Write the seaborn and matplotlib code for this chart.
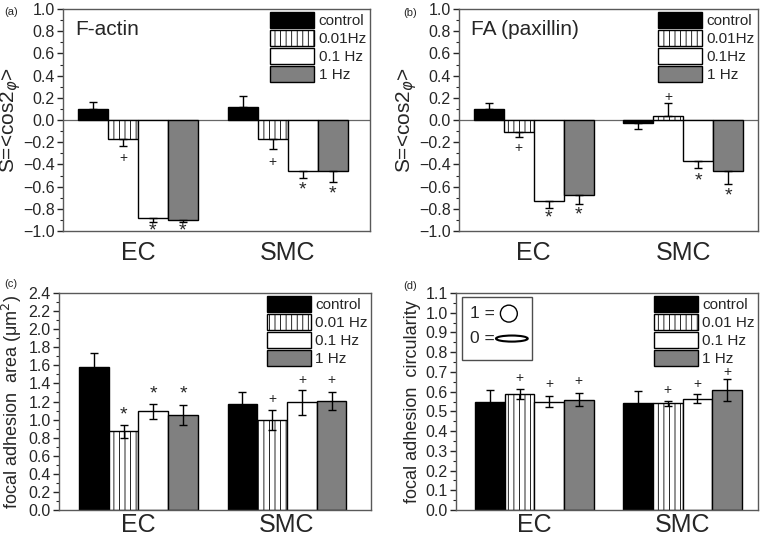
import pandas as pd
import numpy as np
import matplotlib
matplotlib.use("Agg")
import matplotlib.pyplot as plt
import seaborn as sns
from matplotlib.patches import Patch, Rectangle, Ellipse
from matplotlib.ticker import MultipleLocator

sns.set_style("white")
plt.rcParams['font.family'] = ['Liberation Sans', 'DejaVu Sans']
plt.rcParams['hatch.color'] = '0.55'
plt.rcParams['hatch.linewidth'] = 0.6

cells = ['EC', 'SMC']
freqs = ['control', '0.01Hz', '0.1 Hz', '1 Hz']
colors = ['black', 'white', 'white', '#808080']

# (a) F-actin order parameter
actin_ec = [0.10, -0.17, -0.88, -0.90]
actin_smc = [0.12, -0.17, -0.46, -0.46]
actin_ec_err = [0.065, 0.06, 0.04, 0.02]
actin_smc_err = [0.10, 0.09, 0.06, 0.10]
actin_ec_mark = ['', '+', '*', '*']
actin_smc_mark = ['', '+', '*', '*']
actin_ec_mark_y = [0, -0.34, -1.0, -1.0]
actin_smc_mark_y = [0, -0.38, -0.63, -0.67]

# (b) FA (paxillin) order parameter
fa_ec = [0.10, -0.11, -0.73, -0.68]
fa_smc = [-0.025, 0.04, -0.37, -0.46]
fa_ec_err = [0.055, 0.04, 0.06, 0.08]
fa_smc_err = [0.055, 0.11, 0.06, 0.12]
fa_ec_mark = ['', '+', '*', '*']
fa_smc_mark = ['', '+', '*', '*']
fa_ec_mark_y = [0, -0.25, -0.88, -0.86]
fa_smc_mark_y = [0, 0.21, -0.55, -0.68]

# (c) focal adhesion area
area_ec = [1.58, 0.87, 1.09, 1.05]
area_smc = [1.17, 1.00, 1.19, 1.21]
area_ec_err = [0.16, 0.07, 0.08, 0.11]
area_smc_err = [0.14, 0.11, 0.14, 0.10]
area_ec_mark = ['', '*', '*', '*']
area_smc_mark = ['', '+', '+', '+']
area_ec_mark_y = [0, 1.05, 1.28, 1.28]
area_smc_mark_y = [0, 1.23, 1.44, 1.44]

# (d) focal adhesion circularity
circ_ec = [0.545, 0.59, 0.55, 0.56]
circ_smc = [0.54, 0.54, 0.565, 0.61]
circ_ec_err = [0.065, 0.025, 0.03, 0.035]
circ_smc_err = [0.065, 0.012, 0.022, 0.055]
circ_ec_mark = ['', '+', '+', '+']
circ_smc_mark = ['', '+', '+', '+']
circ_ec_mark_y = [0, 0.67, 0.64, 0.655]
circ_smc_mark_y = [0, 0.61, 0.64, 0.70]


def draw_panel(ax, ec, smc, ec_err, smc_err, ec_mark, smc_mark, ec_my, smc_my,
               legend_labels, one_sided, xpad):
    df = pd.DataFrame({
        'cell': [c for c in cells for _ in freqs],
        'freq': freqs * 2,
        'value': list(ec) + list(smc),
    })
    sns.barplot(data=df, x='cell', y='value', hue='freq', hue_order=freqs,
                palette=colors, saturation=1, edgecolor='black', linewidth=1,
                errorbar=None, legend=False, width=0.8, ax=ax)
    bar_conts = list(ax.containers)
    for i, cont in enumerate(bar_conts):
        vals = [ec[i], smc[i]]
        errs = [ec_err[i], smc_err[i]]
        marks = [ec_mark[i], smc_mark[i]]
        mys = [ec_my[i], smc_my[i]]
        for j, p in enumerate(cont.patches):
            if i == 1:
                p.set_hatch('|||')
            xc = p.get_x() + p.get_width() / 2
            v, e = vals[j], errs[j]
            if one_sided:
                yerr = [[e], [0]] if v < 0 else [[0], [e]]
            else:
                yerr = [[e], [e]]
            ax.errorbar(xc, v, yerr=yerr, fmt='none', ecolor='black',
                        elinewidth=1, capsize=3, capthick=1, zorder=3)
            if marks[j]:
                ax.text(xc, mys[j], marks[j], ha='center', va='center',
                        fontsize=14 if marks[j] == '*' else 10, zorder=4)
    handles = []
    for k, lab in enumerate(legend_labels):
        handles.append(Patch(facecolor=colors[k], edgecolor='black', lw=1,
                             hatch='|||' if k == 1 else None, label=lab))
    ax.legend(handles=handles, loc='upper right', frameon=False, fontsize=11,
              handlelength=2.9, handleheight=1.25, labelspacing=0.12,
              handletextpad=0.3, borderaxespad=0.1, borderpad=0.1)
    ax.set_xlabel('')
    ax.tick_params(axis='x', length=0, labelsize=18, pad=xpad)
    ax.tick_params(axis='y', which='major', direction='out', length=4,
                   width=1, labelsize=11.5, left=True, pad=2)
    ax.tick_params(axis='y', which='minor', direction='out', length=2.5,
                   width=0.8, left=True)
    for s in ax.spines.values():
        s.set_color('0.35')
        s.set_linewidth(1)


fig = plt.figure(figsize=(7.6, 5.43), dpi=100)
W, H = 760, 543


def add_ax(l, r, t, b):
    return fig.add_axes([l / W, 1 - b / H, (r - l) / W, (b - t) / H])


ax_a = add_ax(63, 370, 9, 231)
ax_b = add_ax(459, 758, 9, 231)
ax_c = add_ax(59, 371, 293, 510)
ax_d = add_ax(456, 758, 293, 510)

# (a)
draw_panel(ax_a, actin_ec, actin_smc, actin_ec_err, actin_smc_err,
           actin_ec_mark, actin_smc_mark, actin_ec_mark_y, actin_smc_mark_y,
           ['control', '0.01Hz', '0.1 Hz', '1 Hz'], True, 7)
ax_a.set_ylim(-1.0, 1.0)
ax_a.set_xlim(-0.5, 1.55)
ax_a.yaxis.set_major_locator(MultipleLocator(0.2))
ax_a.yaxis.set_minor_locator(MultipleLocator(0.1))
ax_a.axhline(0, color='0.4', lw=0.9, zorder=0)
ax_a.set_ylabel(r'S=<cos2$_{\varphi}$>', fontsize=15, labelpad=0)
ax_a.text(0.04, 0.95, 'F-actin', transform=ax_a.transAxes, fontsize=15,
          va='top', ha='left')

# (b)
draw_panel(ax_b, fa_ec, fa_smc, fa_ec_err, fa_smc_err,
           fa_ec_mark, fa_smc_mark, fa_ec_mark_y, fa_smc_mark_y,
           ['control', '0.01Hz', '0.1Hz', '1 Hz'], True, 7)
ax_b.set_ylim(-1.0, 1.0)
ax_b.set_xlim(-0.5, 1.5)
ax_b.yaxis.set_major_locator(MultipleLocator(0.2))
ax_b.yaxis.set_minor_locator(MultipleLocator(0.1))
ax_b.axhline(0, color='0.4', lw=0.9, zorder=0)
ax_b.set_ylabel(r'S=<cos2$_{\varphi}$>', fontsize=15, labelpad=0)
ax_b.text(0.04, 0.95, 'FA (paxillin)', transform=ax_b.transAxes, fontsize=15,
          va='top', ha='left')

# (c)
draw_panel(ax_c, area_ec, area_smc, area_ec_err, area_smc_err,
           area_ec_mark, area_smc_mark, area_ec_mark_y, area_smc_mark_y,
           ['control', '0.01 Hz', '0.1 Hz', '1 Hz'], False, 2)
ax_c.set_ylim(0, 2.4)
ax_c.set_xlim(-0.535, 1.565)
ax_c.yaxis.set_major_locator(MultipleLocator(0.2))
ax_c.yaxis.set_minor_locator(MultipleLocator(0.1))
ax_c.set_ylabel(r'focal adhesion  area (μm$^2$)', fontsize=13, labelpad=3)

# (d)
draw_panel(ax_d, circ_ec, circ_smc, circ_ec_err, circ_smc_err,
           circ_ec_mark, circ_smc_mark, circ_ec_mark_y, circ_smc_mark_y,
           ['control', '0.01 Hz', '0.1 Hz', '1 Hz'], False, 2)
ax_d.set_ylim(0, 1.1)
ax_d.set_xlim(-0.53, 1.51)
ax_d.yaxis.set_major_locator(MultipleLocator(0.1))
ax_d.yaxis.set_minor_locator(MultipleLocator(0.05))
ax_d.set_ylabel('focal adhesion  circularity', fontsize=13, labelpad=3)

# shape key inset in (d)
ax_d.add_patch(Rectangle((0.02, 0.69), 0.23, 0.29, transform=ax_d.transAxes,
                         fill=False, edgecolor='0.3', lw=1, zorder=5))
ax_d.text(0.045, 0.905, '1 =', transform=ax_d.transAxes, fontsize=12.5,
          va='center', ha='left')
ax_d.add_patch(Ellipse((0.175, 0.905), 0.056, 0.078, transform=ax_d.transAxes,
                       fill=False, edgecolor='black', lw=1))
ax_d.text(0.045, 0.79, '0 =', transform=ax_d.transAxes, fontsize=12.5,
          va='center', ha='left')
ax_d.add_patch(Ellipse((0.185, 0.79), 0.105, 0.028, transform=ax_d.transAxes,
                       fill=False, edgecolor='black', lw=1.5))

# panel letters
fig.text(4 / W, 1 - 12 / H, '(a)', fontsize=8, va='center')
fig.text(403 / W, 1 - 13 / H, '(b)', fontsize=8, va='center')
fig.text(4 / W, 1 - 284 / H, '(c)', fontsize=8, va='center')
fig.text(403 / W, 1 - 286 / H, '(d)', fontsize=8, va='center')

fig.savefig('out.png', dpi=100)
